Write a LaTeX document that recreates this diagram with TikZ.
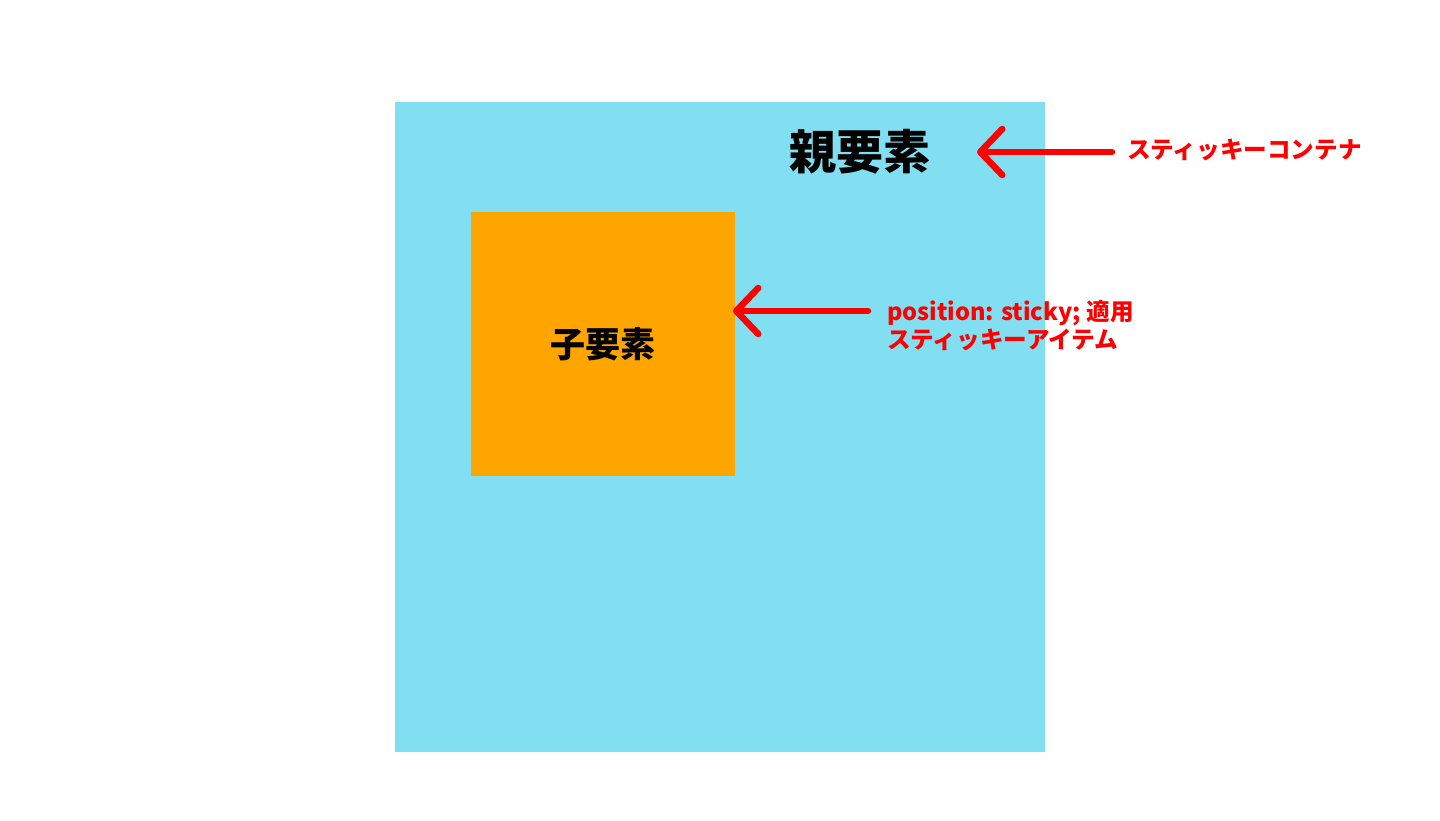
\documentclass[tikz,border=0pt]{standalone}
\usepackage{fontspec}
\setmainfont{Noto Sans CJK JP}
\usetikzlibrary{arrows.meta}
\definecolor{parentblue}{HTML}{82DEF1}
\definecolor{childorange}{HTML}{FFA500}
\tikzstyle{box} = [anchor=north west, inner sep=0pt, outer sep=0pt]
\tikzstyle{boxlabel} = [inner sep=0pt]
\tikzstyle{note} = [inner sep=0pt, text=red, align=left, font={\fontsize{23.6}{28}\selectfont\bfseries}]
\tikzstyle{pointer} = [draw=red, line width=6.5pt, line cap=round,
  -{Straight Barb[length=22pt, width=46pt, line cap=round, line join=round]}]

\begin{document}
\begin{tikzpicture}[x=1pt, y=-1pt]
    \useasboundingbox (0,0) rectangle (1440,821);
    \node[box, fill=parentblue, minimum size=650pt](parent) at (395,102){};
    \node[box, fill=childorange, minimum size=264pt](child) at (471,212){};
    \node[boxlabel, font={\fontsize{47}{50}\selectfont\bfseries}](title) at (860,152){親要素};
    \node[boxlabel, font={\fontsize{35}{40}\selectfont\bfseries}](childname) at (child.center){子要素};
    \node[note, anchor=west](container) at (1127,150){スティッキーコンテナ};
    \node[note, anchor=north west](item) at (887,300){position: sticky; 適用\\スティッキーアイテム};
    \coordinate (tail1) at (1112,152);
    \coordinate (tip1) at (977,152);
    \coordinate (tail2) at (868,311);
    \coordinate (tip2) at (733,311);
    \draw[pointer](tail1)--(tip1);
    \draw[pointer](tail2)--(tip2);
  \end{tikzpicture}
\end{document}
